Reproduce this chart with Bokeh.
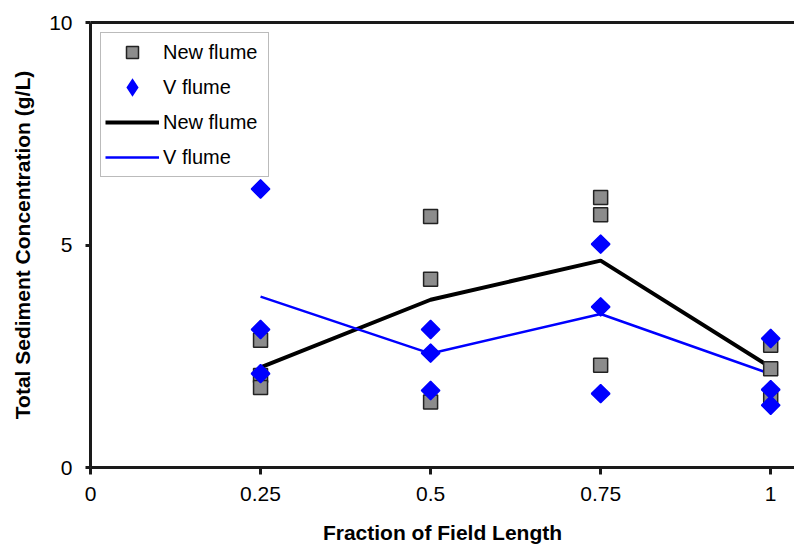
from bokeh.plotting import figure
from bokeh.models import Range1d, FixedTicker, LinearAxis, Legend, LegendItem
from bokeh.embed import file_html
from bokeh.resources import INLINE
import numpy as np

# ---- data ----
x_ticks = [0, 0.25, 0.5, 0.75, 1]
x_tick_labels = ["0", "0.25", "0.5", "0.75", "1"]
y_ticks = [0, 5, 10]
y_tick_labels = ["0", "5", "10"]

new_x = [0.25, 0.25, 0.25, 0.5, 0.5, 0.5, 0.75, 0.75, 0.75, 1, 1, 1]
new_y = [2.86, 2.07, 1.80, 5.64, 4.23, 1.47, 6.07, 5.68, 2.30, 2.75, 2.22, 1.55]
v_x = [0.25, 0.25, 0.25, 0.5, 0.5, 0.5, 0.75, 0.75, 0.75, 1, 1, 1]
v_y = [6.26, 3.10, 2.11, 3.10, 2.57, 1.73, 5.02, 3.61, 1.66, 2.90, 1.75, 1.40]

line_x = [0.25, 0.5, 0.75, 1]
new_line = [2.25, 3.77, 4.65, 2.25]
v_line = [3.84, 2.56, 3.45, 2.10]

FONT = "Liberation Sans"

p = figure(width=794, height=546, output_backend="svg", toolbar_location=None,
           x_range=Range1d(0, 1.035), y_range=Range1d(0, 10),
           min_border_left=90, min_border_right=0, min_border_top=22, min_border_bottom=60)
p.outline_line_color = None
p.xgrid.visible = False
p.ygrid.visible = False
p.background_fill_color = "white"

def style_axis(ax):
    ax.axis_line_color = "#1a1a1a"
    ax.axis_line_width = 3
    ax.major_tick_line_color = "#1a1a1a"
    ax.major_tick_line_width = 3
    ax.major_tick_in = 0
    ax.minor_tick_line_color = None
    ax.major_label_text_font = FONT
    ax.major_label_text_font_size = "21px"
    ax.major_label_text_color = "black"
    ax.axis_label_text_font = FONT
    ax.axis_label_text_font_size = "21px"
    ax.axis_label_text_font_style = "bold"
    ax.axis_label_text_color = "black"

xa = p.xaxis[0]
style_axis(xa)
xa.ticker = FixedTicker(ticks=x_ticks)
xa.major_label_overrides = {t: l for t, l in zip(x_ticks, x_tick_labels)}
xa.major_tick_out = 7
xa.major_label_standoff = 12
xa.axis_label = "Fraction of Field Length"
xa.axis_label_standoff = 17

ya = p.yaxis[0]
style_axis(ya)
ya.ticker = FixedTicker(ticks=y_ticks)
ya.major_label_overrides = {t: l for t, l in zip(y_ticks, y_tick_labels)}
ya.major_tick_out = 5
ya.major_label_standoff = 13
ya.axis_label = "Total Sediment Concentration (g/L)"
ya.axis_label_standoff = 12

top = LinearAxis(ticker=FixedTicker(ticks=[]), major_label_text_font_size="0px",
                 major_tick_line_color=None, minor_tick_line_color=None,
                 axis_line_color="#1a1a1a", axis_line_width=3, major_label_standoff=0)
p.add_layout(top, "above")

r_new_line = p.line(line_x, new_line, line_color="black", line_width=4)
r_v_line = p.line(line_x, v_line, line_color="#0000ff", line_width=2.5)
r_new = p.scatter(new_x, new_y, marker="square", size=14, fill_color="#8c8c8c",
                  line_color="#222222", line_width=1.5)
# legend key glyph for the V flume markers (hidden under the rotated squares)
r_v_key = p.scatter(v_x, v_y, marker="diamond", size=13, fill_color="#0000ff",
                    line_color="#0000ff", line_width=3.5, line_join="miter")
r_v = p.scatter(v_x, v_y, marker="square", size=13, angle=np.pi / 4,
                fill_color="#0000ff", line_color="#0000ff", line_width=1.5)

legend = Legend(items=[
    LegendItem(label="New flume", renderers=[r_new]),
    LegendItem(label="V flume", renderers=[r_v_key]),
    LegendItem(label="New flume", renderers=[r_new_line]),
    LegendItem(label="V flume", renderers=[r_v_line]),
], location="top_left", margin=10, padding=4, spacing=5,
    glyph_width=54, glyph_height=30, label_standoff=4, label_width=101,
    label_text_font=FONT, label_text_font_size="20px", label_text_color="black",
    border_line_color="#777777", border_line_width=1.5,
    background_fill_color="white", background_fill_alpha=1.0)
p.add_layout(legend)

open("out.html", "w").write(file_html(p, INLINE))
